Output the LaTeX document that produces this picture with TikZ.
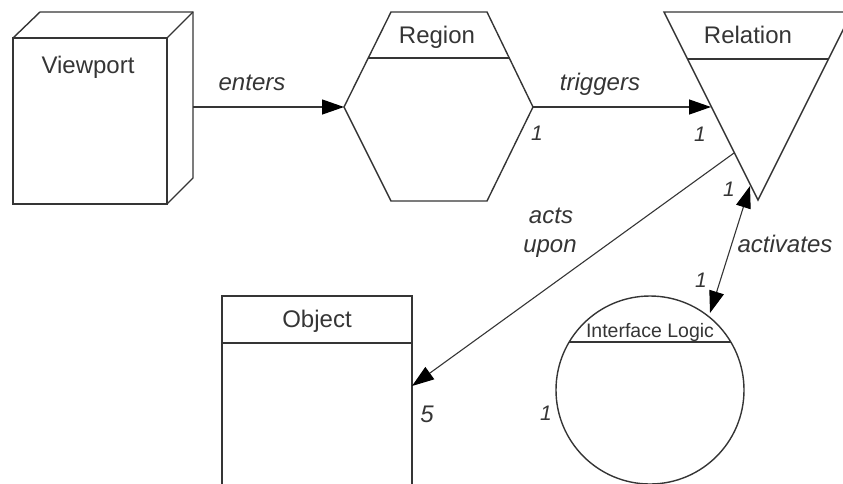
\documentclass[tikz,border=0pt]{standalone}
\usepackage{fontspec}
\setmainfont{Liberation Sans}
\usetikzlibrary{arrows.meta}
\definecolor{ink}{HTML}{353535}
\begin{document}
\begin{tikzpicture}[x=1pt,y=-1pt,
  outline/.style={draw=ink,line width=1.4pt,line join=miter},
  title/.style={text=ink,font=\fontsize{24}{28}\selectfont,inner sep=0pt,anchor=base},
  role/.style={text=ink,font=\fontsize{24}{28}\selectfont\itshape,inner sep=0pt,anchor=base},
  mult/.style={text=ink,font=\fontsize{21}{24}\selectfont\itshape,inner sep=0pt,anchor=base},
  head/.tip={Triangle[length=22pt,width=15pt,fill=black,color=black]},
  link/.style={draw=ink,line width=1.3pt,-head},
  bilink/.style={draw=ink,line width=1.3pt,head-head},
]
\useasboundingbox (0,0) rectangle (843,483);
\clip (0,0) rectangle (843,483);

% Viewport: a box drawn in perspective
\draw[outline] (13,38) rectangle (167,204);
\draw[outline] (13,38) -- (40,12) -- (193,12) -- (193,178) -- (167,204);
\draw[outline] (167,38) -- (193,12);
\node[title] (viewport) at (88,73) {Viewport};
\coordinate (vpR) at (193,107);

% Region: hexagon with a title band
\draw[outline] (344,107) -- (391,12) -- (487,12) -- (533,107) -- (487,201) -- (391,201) -- cycle;
\draw[outline] (368,58) -- (510,58);
\node[title] (region) at (437,43) {Region};
\coordinate (regL) at (344,107);
\coordinate (regR) at (533,107);

% Relation: inverted triangle with a title band
\draw[outline] (664,12) -- (852,12) -- (758,200) -- cycle;
\draw[outline] (688,59) -- (829,59);
\node[title] (relation) at (748,43) {Relation};
\coordinate (relIn) at (711,107);
\coordinate (relOut) at (734,153);
\coordinate (relAct) at (750,186);

% Object: class box running off the bottom
\draw[outline] (222,500) -- (222,296) -- (412,296) -- (412,500);
\draw[outline] (222,343) -- (412,343);
\node[title] (object) at (317,327) {Object};
\coordinate (objIn) at (412,386);

% Interface Logic: circle with a title band
\draw[outline] (650,390) circle[radius=94];
\draw[outline] (569,342) -- (731,342);
\node[text=ink,font=\fontsize{19.5}{22}\selectfont,inner sep=0pt,anchor=base] (logic) at (650,337) {Interface Logic};
\coordinate (logTop) at (710,313);

% Connectors
\draw[link] (vpR) -- (regL);
\draw[link] (regR) -- (relIn);
\draw[link,line width=1.1pt] (relOut) -- (objIn);
\draw[bilink,line width=1.1pt] (logTop) -- (relAct);

% Role names
\node[role] (lenters) at (252,90) {enters};
\node[role] (ltriggers) at (600,90) {triggers};
\node[role] (lacts) at (551,223) {acts};
\node[role] (lupon) at (550,252) {upon};
\node[role] (lactivates) at (785,252) {activates};

% Multiplicities
\node[mult] (m1) at (537,140) {1};
\node[mult] (m2) at (700,141) {1};
\node[mult] (m3) at (729,196) {1};
\node[mult] (m4) at (701,287) {1};
\node[mult] (m5) at (546,420) {1};
\node[role] (m6) at (427,422) {5};
\end{tikzpicture}
\end{document}
